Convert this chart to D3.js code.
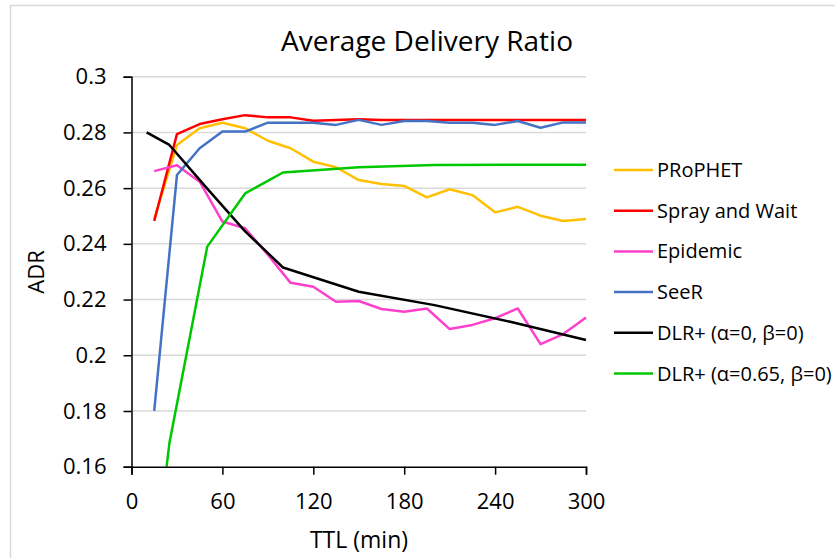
<!DOCTYPE html>
<html>
<head>
<meta charset="utf-8">
<script src="https://cdn.jsdelivr.net/npm/d3@7"></script>
<style>
  html, body { margin: 0; padding: 0; background: #fff; }
  svg text { font-family: "Open Sans", sans-serif; fill: #000; }
</style>
</head>
<body>
<svg id="chart" width="835" height="558"></svg>
<script>
// TTL values (min)
const ttlStep = [15, 30, 45, 60, 75, 90, 105, 120, 135, 150, 165, 180, 195, 210, 225, 240, 255, 270, 285, 300];
const ttlDlr = [10, 25, 50, 75, 100, 150, 200, 250, 300];

// series values
const prophet = [0.249, 0.2755, 0.2815, 0.2835, 0.2815, 0.277, 0.2743, 0.2695, 0.2675, 0.2629,
                 0.2615, 0.2608, 0.2567, 0.2596, 0.2575, 0.2513, 0.2533, 0.2501, 0.2482, 0.2489];
const sprayWait = [0.2482, 0.2794, 0.283, 0.2847, 0.2862, 0.2854, 0.2854, 0.2842, 0.2845, 0.2847,
                   0.2845, 0.2845, 0.2845, 0.2845, 0.2845, 0.2845, 0.2845, 0.2845, 0.2845, 0.2845];
const epidemic = [0.2661, 0.2682, 0.2623, 0.248, 0.2456, 0.2361, 0.226, 0.2246, 0.2192, 0.2195,
                  0.2166, 0.2156, 0.2168, 0.2094, 0.2109, 0.2133, 0.2168, 0.204, 0.2076, 0.2136];
const seer = [0.18, 0.2647, 0.2743, 0.2803, 0.2803, 0.2835, 0.2835, 0.2835, 0.2827, 0.2845,
              0.2827, 0.2841, 0.2841, 0.2835, 0.2835, 0.2827, 0.2841, 0.2817, 0.2836, 0.2836];
const dlrA0 = [0.28, 0.2755, 0.2598, 0.2445, 0.2315, 0.2228, 0.218, 0.212, 0.2055];
const dlrA065 = [0.10, 0.1684, 0.239, 0.2581, 0.2656, 0.2675, 0.2683, 0.2684, 0.2684];

const xTicks = [0, 60, 120, 180, 240, 300];
const yTicks = [0.16, 0.18, 0.2, 0.22, 0.24, 0.26, 0.28, 0.3];

const series = [
    { name: 'PRoPHET', x: ttlStep, y: prophet, color: '#ffc000' },
    { name: 'Spray and Wait', x: ttlStep, y: sprayWait, color: '#ff0000' },
    { name: 'Epidemic', x: ttlStep, y: epidemic, color: '#ff40cc' },
    { name: 'SeeR', x: ttlStep, y: seer, color: '#4472c4' },
    { name: 'DLR+ (α=0, β=0)', x: ttlDlr, y: dlrA0, color: '#000000' },
    { name: 'DLR+ (α=0.65, β=0)', x: ttlDlr, y: dlrA065, color: '#00c800' }
];

const svg = d3.select('#chart');

// chart frame
svg.append('rect')
    .attr('x', 10.5).attr('y', 5.5)
    .attr('width', 900).attr('height', 600)
    .attr('fill', 'none')
    .attr('stroke', '#d9d9d9')
    .attr('stroke-width', 1.5);

const plot = { left: 131.5, right: 586, top: 76.7, bottom: 466.7 };

const x = d3.scaleLinear().domain([0, 300]).range([plot.left, plot.right]);
const y = d3.scaleLinear().domain([0.16, 0.3]).range([plot.bottom, plot.top]);

// gridlines
svg.append('g')
    .selectAll('line')
    .data(yTicks.filter(d => d > 0.16))
    .join('line')
    .attr('x1', plot.left).attr('x2', plot.right)
    .attr('y1', d => y(d)).attr('y2', d => y(d))
    .attr('stroke', '#d9d9d9')
    .attr('stroke-width', 1.5);

svg.append('defs').append('clipPath')
    .attr('id', 'plot-clip')
    .append('rect')
    .attr('x', plot.left).attr('y', plot.top - 5)
    .attr('width', plot.right - plot.left + 5)
    .attr('height', plot.bottom - plot.top + 5);

// lines
const lineGen = d3.line()
    .x(d => x(d[0]))
    .y(d => y(d[1]));

svg.append('g')
    .attr('clip-path', 'url(#plot-clip)')
    .selectAll('path')
    .data(series)
    .join('path')
    .attr('d', s => lineGen(s.x.map((v, i) => [v, s.y[i]])))
    .attr('fill', 'none')
    .attr('stroke', s => s.color)
    .attr('stroke-width', 2.5)
    .attr('stroke-linejoin', 'round');

// axes
const yAxis = svg.append('g')
    .attr('transform', `translate(${plot.left},0)`)
    .call(d3.axisLeft(y).tickValues(yTicks).tickFormat(d3.format('~g')).tickSizeOuter(0).tickSize(8).tickPadding(17));

const xAxis = svg.append('g')
    .attr('transform', `translate(0,${plot.bottom})`)
    .call(d3.axisBottom(x).tickValues(xTicks).tickSizeOuter(0).tickSize(8).tickPadding(19));

[yAxis, xAxis].forEach(ax => {
    ax.select('.domain').attr('stroke', '#000').attr('stroke-width', 1.5);
    ax.selectAll('.tick line').attr('stroke', '#000').attr('stroke-width', 1.5);
    ax.selectAll('.tick text')
        .style('font-family', '"Open Sans", sans-serif')
        .style('font-size', '22px')
        .attr('fill', '#000');
});
xAxis.selectAll('.tick text').attr('dy', '0.71em');

// title and axis labels
svg.append('text')
    .attr('x', 427).attr('y', 51)
    .attr('text-anchor', 'middle')
    .style('font-size', '28px')
    .text('Average Delivery Ratio');

svg.append('text')
    .attr('x', 359).attr('y', 548)
    .attr('text-anchor', 'middle')
    .style('font-size', '23px')
    .text('TTL (min)');

svg.append('text')
    .attr('transform', 'translate(44,272) rotate(-90)')
    .attr('text-anchor', 'middle')
    .style('font-size', '22px')
    .text('ADR');

// legend
const legend = svg.append('g')
    .selectAll('g')
    .data(series)
    .join('g')
    .attr('transform', (d, i) => `translate(614,${170 + i * 40.7})`);

legend.append('line')
    .attr('x1', 0).attr('x2', 39)
    .attr('stroke', d => d.color)
    .attr('stroke-width', 2.5);

legend.append('text')
    .attr('x', 43)
    .attr('dy', '0.35em')
    .style('font-size', '20px')
    .text(d => d.name);
</script>
</body>
</html>
